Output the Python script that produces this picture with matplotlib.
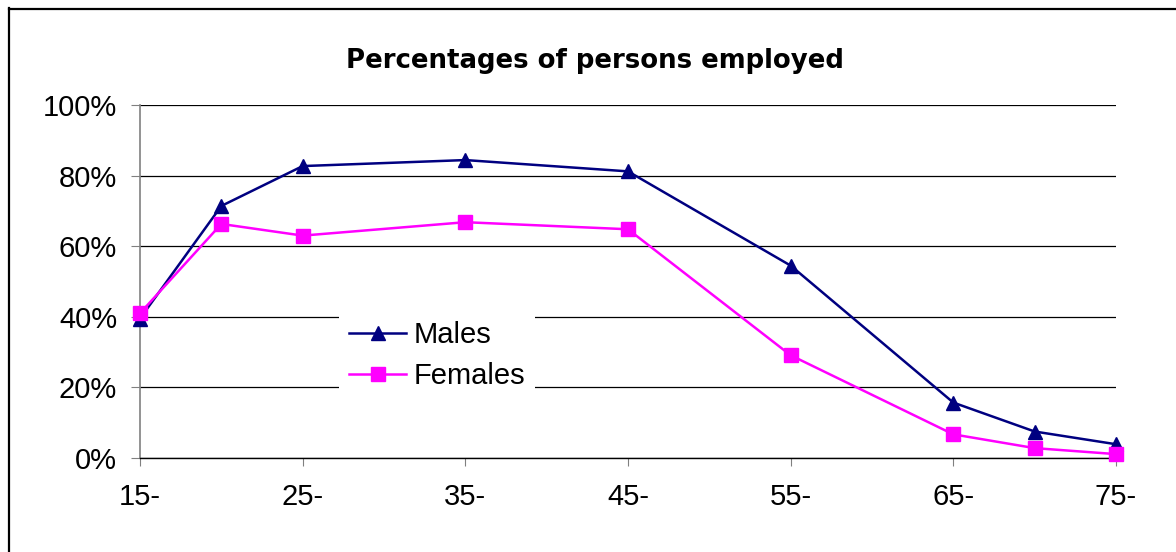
import matplotlib
matplotlib.use("Agg")
import matplotlib.pyplot as plt
from matplotlib.lines import Line2D

ages = [15, 20, 25, 35, 45, 55, 65, 70, 75]
males = [39.5, 71.4, 82.7, 84.4, 81.2, 54.5, 15.7, 7.5, 3.9]
females = [41.0, 66.3, 63.0, 66.8, 64.8, 29.1, 6.7, 2.8, 1.1]
xticks = [15, 25, 35, 45, 55, 65, 75]
xticklabels = ["15-", "25-", "35-", "45-", "55-", "65-", "75-"]
yticks = [0, 20, 40, 60, 80, 100]
yticklabels = ["0%", "20%", "40%", "60%", "80%", "100%"]
title = "Percentages of persons employed"

plt.rcParams['font.family'] = ['Liberation Sans', 'DejaVu Sans']

fig = plt.figure(figsize=(11.76, 5.52), dpi=100)
fig.patch.set_facecolor("white")

# outer chart frame (left and top edges visible)
fig.add_artist(Line2D([8.5/1176, 8.5/1176], [0, 1 - 8/552], color="black", lw=1.6))
fig.add_artist(Line2D([8.5/1176, 1], [1 - 8.5/552, 1 - 8.5/552], color="black", lw=1.6))

ax = fig.add_axes([140/1176, (552-458)/552, (1116-140)/1176, (458-105)/552])
ax.set_xlim(15, 75)
ax.set_ylim(0, 100)

ax.plot(ages, males, color="#000080", lw=1.8, marker="^", markersize=10.5,
        label="Males", zorder=3, clip_on=False)
ax.plot(ages, females, color="#FF00FF", lw=1.8, marker="s", markersize=10,
        label="Females", zorder=3, clip_on=False)

ax.set_yticks(yticks)
ax.set_yticklabels(yticklabels, fontsize=21)
ax.set_xticks(xticks)
ax.set_xticklabels(xticklabels, fontsize=21)
ax.yaxis.grid(True, color="black", lw=0.9)
ax.set_axisbelow(True)
for s in ["top", "right"]:
    ax.spines[s].set_visible(False)
ax.spines["left"].set_color("#808080")
ax.spines["left"].set_linewidth(1.2)
ax.spines["bottom"].set_color("black")
ax.spines["bottom"].set_linewidth(1.0)
ax.tick_params(axis="y", direction="out", length=6.5, color="#808080", pad=10)
ax.tick_params(axis="x", direction="out", length=6, color="#808080", pad=12)

fig.text(595/1176, 1 - 61/552, title, ha="center", va="center",
         fontsize=18.7, fontweight="bold", family="DejaVu Sans")

leg = ax.legend(loc="center", bbox_to_anchor=((437-140)/976, (458-355.5)/353),
                frameon=True, fontsize=21, handlelength=1.95, handletextpad=0.25,
                labelspacing=0.45, borderpad=0.35, borderaxespad=0, fancybox=False)
leg.get_frame().set_edgecolor("none")
leg.get_frame().set_facecolor("white")
leg.get_frame().set_alpha(1)

fig.savefig("out.png", dpi=100)
